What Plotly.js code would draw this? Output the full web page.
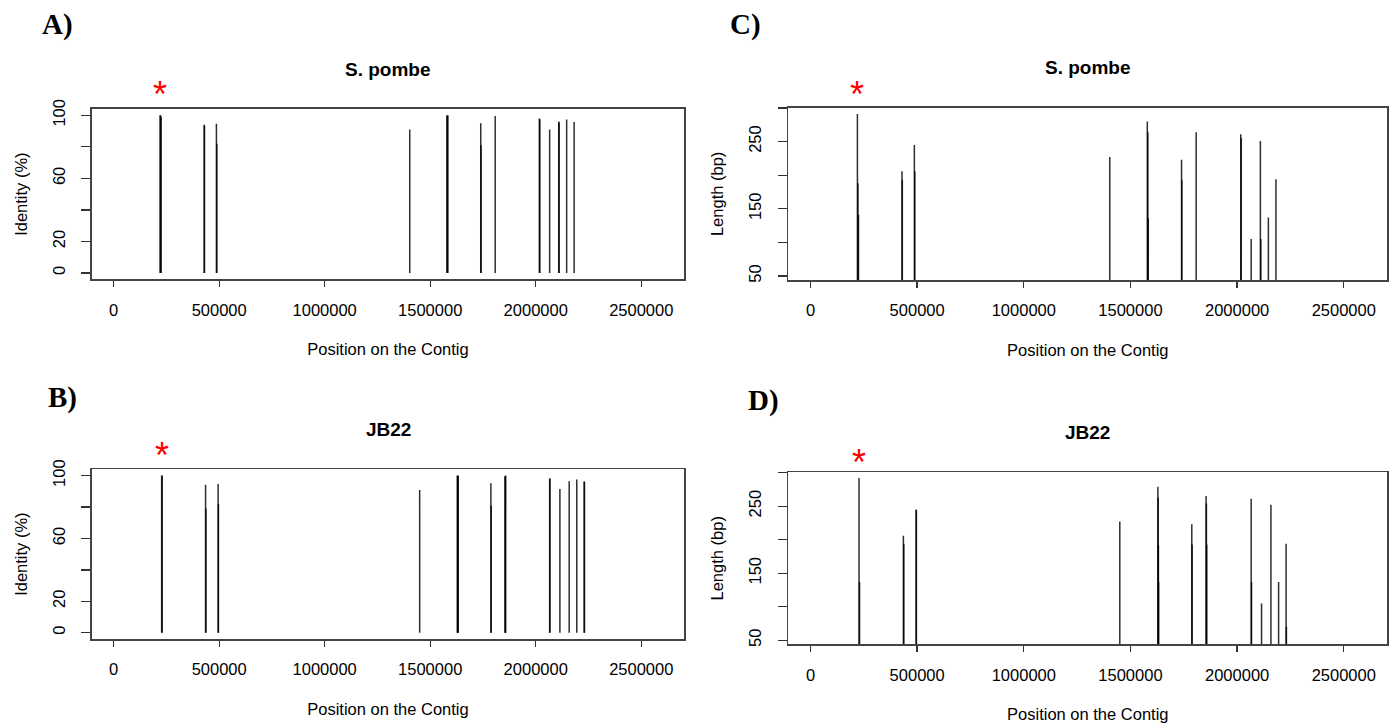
<!DOCTYPE html>
<html>
<head>
<meta charset="utf-8">
<script src="https://cdn.plot.ly/plotly-3.0.1.min.js"></script>
<style>
  html, body { margin: 0; padding: 0; background: #fff; }
  #chart { width: 1394px; height: 728px; }
</style>
</head>
<body>
<div id="chart"></div>
<script>
// BLAST hits of the marker sequence along the contig.
// Each hit: position on the contig, identity (%) and alignment length (bp).

// S. pombe hits
const pombePos      = [220000, 222500, 225000, 429000, 430500, 487000, 489000, 1403000,
                       1579000, 1581500, 1583500, 1739500, 1741000, 1808000, 2017000, 2019500,
                       2066000, 2109000, 2111000, 2146500, 2182000];
const pombeIdentity = [100, 100, 99, 94, 93.5, 94.6, 82, 91,
                       100, 99.5, 100, 95, 81, 99.6, 98, 97.5,
                       91, 96, 95.5, 97.3, 95.8];
const pombeLength   = [291, 188, 141, 206, 193, 245, 206, 227,
                       280, 264, 136, 223, 193, 264, 261, 255,
                       105, 251, 105, 137, 194];

// JB22 hits
const jb22Pos      = [227500, 230000, 435500, 437500, 495000, 496500, 1450000,
                      1628500, 1630000, 1631000, 1632000, 1787500, 1789000,
                      1854500, 1856000, 1857500, 2066000, 2067500, 2114500,
                      2158500, 2194500, 2229500, 2231000];
const jb22Identity = [100, 100, 94.2, 79, 94.6, 82, 90.8,
                      100, 99.5, 99.6, 100, 95.2, 81,
                      99.6, 99.5, 100, 98.3, 97.8, 91.4,
                      96.4, 97.5, 96.3, 96];
const jb22Length   = [292, 137, 206, 194, 245, 244, 227,
                      279, 263, 192, 137, 223, 193,
                      265, 254, 193, 261, 137, 105,
                      252, 137, 194, 70];

// Axis ticks
const positionTicks   = [0, 500000, 1000000, 1500000, 2000000, 2500000];
const identityTicks   = [0, 20, 40, 60, 80, 100];
const identityLabels  = ['0', '20', '', '60', '', '100'];
const lengthTicks     = [50, 100, 150, 200, 250, 300];
const lengthLabels    = ['50', '', '150', '', '250', ''];

const speciesNames = ['S. pombe', 'JB22'];
const panelLetters = ['A)', 'B)', 'C)', 'D)'];

// vertical "h"-type stems from 0 up to each value
function stems(pos, vals, xa, ya) {
  const x = [], y = [];
  pos.forEach((p, i) => { x.push(p, p, null); y.push(0, vals[i], null); });
  return {
    type: 'scatter', mode: 'lines', x: x, y: y, xaxis: xa, yaxis: ya,
    line: { color: 'rgba(0,0,0,0.82)', width: 1.5 },
    hoverinfo: 'skip', showlegend: false, connectgaps: false
  };
}

const traces = [
  stems(pombePos, pombeIdentity, 'x',  'y'),
  stems(jb22Pos,  jb22Identity,  'x3', 'y3'),
  stems(pombePos, pombeLength,   'x2', 'y2'),
  stems(jb22Pos,  jb22Length,    'x4', 'y4')
];

const W = 1394, H = 728;
const fx = px => px / W;
const fy = py => 1 - py / H;

// plot boxes in pixels: [left, right, top, bottom]
const boxes = {
  A: [91.7, 684.3, 109, 279.3],
  C: [788.3, 1387.3, 107.7, 280],
  B: [91.7, 684.3, 469.3, 639],
  D: [788.3, 1387.3, 472.3, 644.3]
};

const sans = 'Liberation Sans, Arial, Helvetica, sans-serif';
const axisFont = { family: sans, size: 16.5, color: '#000' };

function xAxis(box, anchor) {
  return {
    domain: [fx(box[0]), fx(box[1])], anchor: anchor,
    range: [-104000, 2704000], tickvals: positionTicks, tickformat: 'd',
    ticks: 'outside', ticklen: 6, tickwidth: 1.3, tickcolor: '#333',
    ticklabelstandoff: 9,
    showline: true, mirror: true, linecolor: '#444', linewidth: 1.6,
    showgrid: false, zeroline: false, tickfont: axisFont,
    title: { text: 'Position on the Contig', font: axisFont, standoff: 26 }
  };
}
function yAxis(box, anchor, range, vals, labels, titleText) {
  return {
    domain: [fy(box[3]), fy(box[2])], anchor: anchor,
    range: range, tickvals: vals, ticktext: labels, tickangle: -90,
    ticks: 'outside', ticklen: 9, tickwidth: 1.3, tickcolor: '#333',
    ticklabelstandoff: 10,
    showline: true, mirror: true, linecolor: '#444', linewidth: 1.6,
    showgrid: false, zeroline: false, tickfont: axisFont,
    title: { text: titleText, font: axisFont, standoff: 18 }
  };
}

const annotations = [];
function panelText(text, xpx, ypx, font, xanchor) {
  annotations.push({
    text: text, xref: 'paper', yref: 'paper', x: fx(xpx), y: fy(ypx),
    xanchor: xanchor || 'center', yanchor: 'middle', showarrow: false, font: font
  });
}
const titleFont  = { family: sans, size: 19, color: '#000', weight: 'bold' };
const letterFont = { family: 'Liberation Serif, Times New Roman, serif', size: 29, color: '#000', weight: 'bold' };

// panel titles
panelText(speciesNames[0], (boxes.A[0] + boxes.A[1]) / 2, 69, titleFont);
panelText(speciesNames[0], (boxes.C[0] + boxes.C[1]) / 2, 67, titleFont);
panelText(speciesNames[1], (boxes.B[0] + boxes.B[1]) / 2, 429, titleFont);
panelText(speciesNames[1], (boxes.D[0] + boxes.D[1]) / 2, 432, titleFont);

// panel letters
panelText(panelLetters[0], 40, 25, letterFont, 'left');
panelText(panelLetters[1], 46, 398, letterFont, 'left');
panelText(panelLetters[2], 728, 25, letterFont, 'left');
panelText(panelLetters[3], 746, 400, letterFont, 'left');

// red asterisks above the first hit of each contig
const starFont = { family: sans, size: 36, color: '#ff0000' };
[['x', pombePos[0], 95], ['x3', jb22Pos[0], 455], ['x2', pombePos[0], 95], ['x4', jb22Pos[0], 462]]
  .forEach(([xa, p, ypx]) => annotations.push({
    text: '*', xref: xa, yref: 'paper', x: p, y: fy(ypx),
    xanchor: 'center', yanchor: 'middle', showarrow: false, font: starFont
  }));

const layout = {
  width: W, height: H,
  margin: { l: 0, r: 0, t: 0, b: 0 },
  paper_bgcolor: '#fff', plot_bgcolor: '#fff',
  showlegend: false,
  xaxis:  xAxis(boxes.A, 'y'),
  yaxis:  yAxis(boxes.A, 'x',  [-4, 104], identityTicks, identityLabels, 'Identity (%)'),
  xaxis2: xAxis(boxes.C, 'y2'),
  yaxis2: yAxis(boxes.C, 'x2', [44, 300.4], lengthTicks, lengthLabels, 'Length (bp)'),
  xaxis3: xAxis(boxes.B, 'y3'),
  yaxis3: yAxis(boxes.B, 'x3', [-4, 104], identityTicks, identityLabels, 'Identity (%)'),
  xaxis4: xAxis(boxes.D, 'y4'),
  yaxis4: yAxis(boxes.D, 'x4', [44, 300.5], lengthTicks, lengthLabels, 'Length (bp)'),
  annotations: annotations
};

Plotly.newPlot('chart', traces, layout, { staticPlot: true, displayModeBar: false });
</script>
</body>
</html>
